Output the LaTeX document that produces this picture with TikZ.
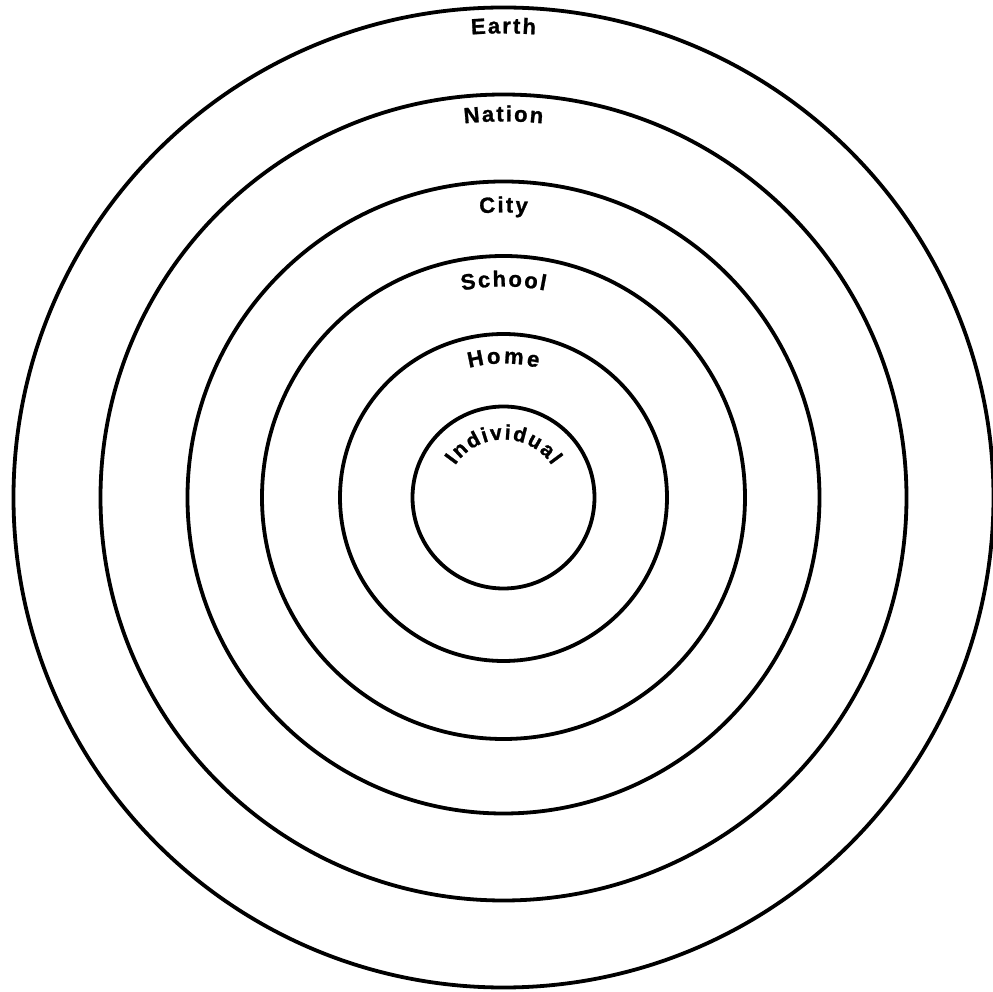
\documentclass[tikz,border=0pt]{standalone}
\usepackage{fontspec}
\setmainfont{Liberation Sans}[BoldFeatures={FakeBold=1.2}]
\usetikzlibrary{decorations.text}
\newcommand{\labfont}{\fontsize{22}{22}\selectfont\bfseries}
\newcommand{\smallfont}{\fontsize{21}{21}\selectfont\bfseries}
\begin{document}
\begin{tikzpicture}[x=1pt,y=1pt,
  ring/.style={circle, draw=black, line width=3.8pt, inner sep=0pt, minimum size=#1},
  curvedlabel/.style 2 args={decorate, decoration={text effects along path, text={#1}, text align=center,
      text effects/.cd, text along path, character widths={inner xsep=#2}}}]
\useasboundingbox (-503.5,-494.5) rectangle (489.5,497.5);
\coordinate (c) at (0,0);
\node[ring=980pt] (earth) at (c) {};
\node[ring=806pt] (nation) at (c) {};
\node[ring=632pt] (city) at (c) {};
\node[ring=483pt] (school) at (c) {};
\node[ring=327pt] (home) at (c) {};
\node[ring=182pt] (individual) at (c) {};
\begin{scope}[font=\labfont]
\path[curvedlabel={Earth}{1pt}] (160:464) arc[start angle=160, end angle=20, radius=464];
\path[curvedlabel={Nation}{1pt}] (160:376) arc[start angle=160, end angle=20, radius=376];
\path[curvedlabel={City}{1pt}] (160:285) arc[start angle=160, end angle=20, radius=285];
\path[curvedlabel={School}{1pt}] (160:211) arc[start angle=160, end angle=20, radius=211];
\path[curvedlabel={Home}{1.4pt}] (160:134) arc[start angle=160, end angle=20, radius=134];
\end{scope}
\begin{scope}[font=\smallfont]
\path[curvedlabel={Individual}{0.9pt}] (178:58) arc[start angle=178, end angle=2, radius=58];
\end{scope}
\end{tikzpicture}
\end{document}
